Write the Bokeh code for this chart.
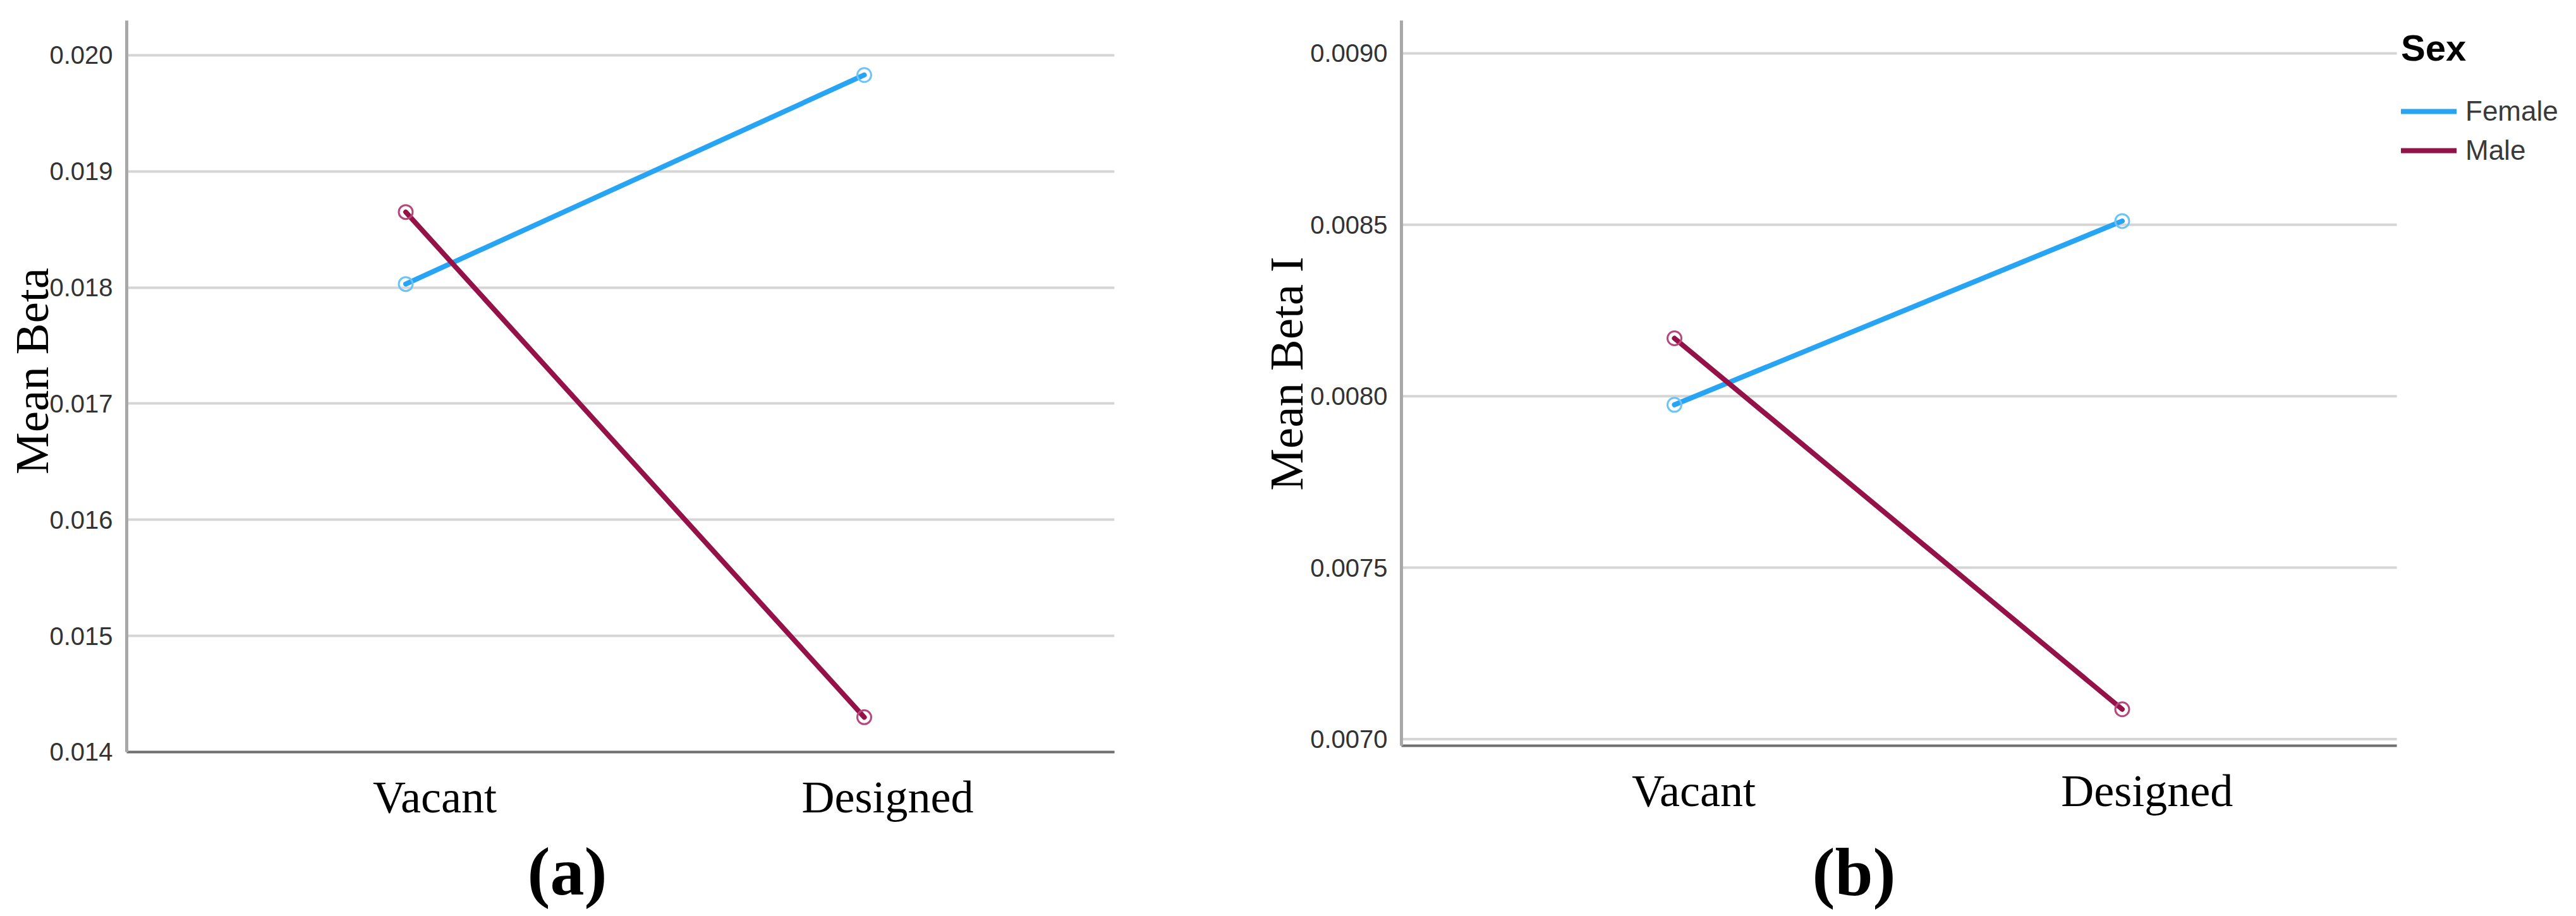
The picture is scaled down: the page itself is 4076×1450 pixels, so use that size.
from bokeh.plotting import figure
from bokeh.models import (Range1d, LinearAxis, FixedTicker, PrintfTickFormatter,
                          Legend, LegendItem)
from bokeh.layouts import row
from bokeh.embed import file_html
from bokeh.resources import INLINE

# ---------------- data ----------------
categories = ["Vacant", "Designed"]
series_names = ["Female", "Male"]
a_female = [0.01803, 0.01983]
a_male = [0.01865, 0.01430]
b_female = [0.007975, 0.008511]
b_male = [0.008169, 0.007087]
a_ticks = [0.014, 0.015, 0.016, 0.017, 0.018, 0.019, 0.020]
b_ticks = [0.0070, 0.0075, 0.0080, 0.0085, 0.0090]
a_ytitle = "Mean Beta"
b_ytitle = "Mean Beta I"
captions = ["(a)", "(b)"]
legend_title = "Sex"

FEMALE = "#27a5f4"
MALE = "#941247"
FEMALE_MK = "#6cc3f7"
MALE_MK = "#b8467a"
GRID = "#d5d5d5"

xpos = list(range(len(categories)))


def bare_axis(ax):
    ax.axis_line_color = None
    ax.major_tick_out = 0
    ax.major_tick_in = 0
    ax.minor_tick_out = 0
    ax.minor_tick_in = 0


def make_panel(female, male, ticks, fmt, ytitle, caption, xr, x_plot_end, lr, lab_end,
               yr, fw, fh, bl, bt, br, bb, ytitle_pos, ytitle_standoff,
               cap_pos, cap_standoff):
    p = figure(frame_width=fw, frame_height=fh,
               x_range=Range1d(*xr), y_range=Range1d(*yr),
               x_axis_location=None, output_backend="svg",
               toolbar_location=None, min_border_left=bl, min_border_top=bt,
               min_border_right=br, min_border_bottom=bb)
    p.outline_line_color = None
    p.background_fill_color = "white"
    p.border_fill_color = "white"

    # value axis
    yax = p.yaxis[0]
    yax.ticker = FixedTicker(ticks=ticks)
    yax.formatter = PrintfTickFormatter(format=fmt)
    yax.major_tick_out = 0
    yax.major_tick_in = 0
    yax.minor_tick_out = 0
    yax.minor_tick_in = 0
    yax.major_label_standoff = 22
    yax.major_label_text_font = "Liberation Sans"
    yax.major_label_text_font_size = "40px"
    yax.major_label_text_color = "#333333"
    yax.axis_line_color = "#a8a8a8"
    yax.axis_line_width = 5

    p.xgrid.visible = False
    grid = p.ygrid[0]
    grid.ticker = FixedTicker(ticks=ticks)
    if x_plot_end is None:
        grid.grid_line_color = GRID
        grid.grid_line_width = 4
    else:
        # grid lines stop at the plot area's right edge (legend sits beyond it)
        grid.visible = False
        p.segment(x0=[xr[0]] * len(ticks), x1=[x_plot_end] * len(ticks),
                  y0=ticks, y1=ticks, line_color=GRID, line_width=4)

    # y title as an outer axis (pixel-unit range)
    p.extra_y_ranges = {"ttl": Range1d(0, fh)}
    tax = LinearAxis(y_range_name="ttl", ticker=FixedTicker(ticks=[ytitle_pos]),
                     major_label_overrides={ytitle_pos: ytitle})
    bare_axis(tax)
    tax.major_label_orientation = "parallel"
    tax.major_label_standoff = ytitle_standoff
    tax.major_label_text_font = "Liberation Serif"
    tax.major_label_text_font_size = "75px"
    tax.major_label_text_color = "black"
    p.add_layout(tax, "left")

    # category axis
    p.extra_x_ranges = {"lab": Range1d(*lr), "cap": Range1d(0, fw)}
    xax = LinearAxis(x_range_name="lab", ticker=FixedTicker(ticks=xpos),
                     major_label_overrides={i: c for i, c in enumerate(categories)})
    if lab_end is not None:
        xax.bounds = (lr[0], lab_end)
    xax.major_tick_out = 0
    xax.major_tick_in = 0
    xax.minor_tick_out = 0
    xax.minor_tick_in = 0
    xax.major_label_standoff = 31
    xax.major_label_text_font = "Liberation Serif"
    xax.major_label_text_font_size = "72px"
    xax.major_label_text_color = "black"
    xax.axis_line_color = "#6f6f6f"
    xax.axis_line_width = 4
    p.add_layout(xax, "below")

    # panel caption as an outer axis (pixel-unit range)
    cax = LinearAxis(x_range_name="cap", ticker=FixedTicker(ticks=[cap_pos]),
                     major_label_overrides={cap_pos: caption})
    bare_axis(cax)
    cax.major_label_standoff = cap_standoff
    cax.major_label_text_font = "Liberation Serif"
    cax.major_label_text_font_style = "bold"
    cax.major_label_text_font_size = "108px"
    cax.major_label_text_color = "black"
    p.add_layout(cax, "below")

    rf = p.line(xpos, female, line_color=FEMALE, line_width=8, line_cap="round")
    rm = p.line(xpos, male, line_color=MALE, line_width=8, line_cap="round")
    p.scatter(xpos, female, marker="circle", size=22, fill_color=None,
              line_color=FEMALE_MK, line_width=3)
    p.scatter(xpos, male, marker="circle", size=22, fill_color=None,
              line_color=MALE_MK, line_width=3)
    return p, rf, rm


p1, _, _ = make_panel(a_female, a_male, a_ticks, "%.3f", a_ytitle, captions[0],
                      xr=(-0.6085, 1.5458), x_plot_end=None,
                      lr=(-0.6804, 1.5010), lab_end=None,
                      yr=(0.01399999, 0.020299),
                      fw=1563, fh=1158, bl=200, bt=32, br=200, bb=258,
                      ytitle_pos=603, ytitle_standoff=-16, cap_pos=697, cap_standoff=15)

# panel (b): frame extends under the legend; plot area ends at x = 1.6133
p2, rf2, rm2 = make_panel(b_female, b_male, b_ticks, "%.4f", b_ytitle, captions[1],
                          xr=(-0.6097, 2.0127), x_plot_end=1.6133,
                          lr=(-0.6449, 1.9457), lab_end=1.5511,
                          yr=(0.0069806, 0.0090958),
                          fw=1858, fh=1148, bl=254, bt=26, br=0, bb=274,
                          ytitle_pos=589, ytitle_standoff=-6, cap_pos=716, cap_standoff=26)

legend = Legend(items=[LegendItem(label=series_names[0], renderers=[rf2]),
                       LegendItem(label=series_names[1], renderers=[rm2])],
                location=(1582, 917), orientation="vertical", title=legend_title)
legend.margin = 0
legend.padding = 8
legend.spacing = 12
legend.glyph_width = 88
legend.glyph_height = 50
legend.label_height = 50
legend.label_standoff = 14
legend.label_text_font = "Liberation Sans"
legend.label_text_font_size = "44px"
legend.label_text_color = "#3a3a3a"
legend.title_text_font = "Liberation Sans"
legend.title_text_font_style = "bold"
legend.title_text_font_size = "58px"
legend.title_text_color = "black"
legend.title_standoff = 42
legend.border_line_color = None
legend.background_fill_alpha = 0
p2.add_layout(legend)

layout = row(p1, p2)
open("out.html", "w").write(file_html(layout, INLINE))
